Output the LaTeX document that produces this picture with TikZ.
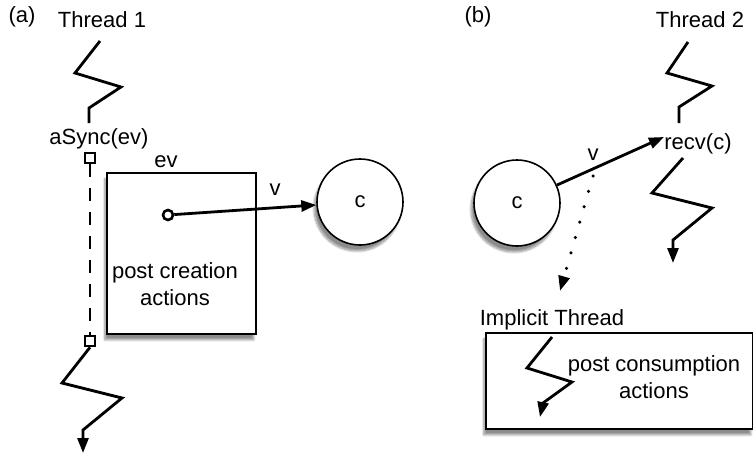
\documentclass[tikz,border=0pt]{standalone}
\usepackage{fontspec}
\setmainfont{Liberation Sans}
\usetikzlibrary{arrows.meta,shadows.blur}
\begin{document}
\begin{tikzpicture}[x=1pt,y=-1pt,
  every node/.style={font=\fontsize{22}{27}\selectfont},
  lbl/.style={inner sep=0pt},
  tip/.style={-{Triangle[length=15pt,width=11pt]}},
  thr/.style={line width=2.8pt,line join=miter,tip},
  thrplain/.style={line width=2.8pt,line join=miter},
  arr/.style={line width=2.8pt,tip},
  boxshape/.style={draw,line width=1.6pt,fill=white,blur shadow={shadow xshift=-2pt,shadow yshift=-6pt,shadow blur steps=10,shadow opacity=45}},
  chan/.style={circle,draw,line width=1.6pt,fill=white,minimum size=86pt,inner sep=0pt,blur shadow={shadow xshift=-3pt,shadow yshift=-6pt,shadow blur steps=10,shadow opacity=45}},
  sq/.style={draw,line width=2.6pt,fill=white,minimum size=10pt,inner sep=0pt}
]
\useasboundingbox (0,0) rectangle (753,455);

% ---------- (a) ----------
\node[lbl] (la) at (22,17) {(a)};
\node[lbl] (t1) at (102,20) {Thread 1};
\coordinate (z1a) at (100,41);
\coordinate (z1b) at (75,73);
\coordinate (z1c) at (121,87);
\coordinate (z1d) at (89,108);
\coordinate (z1e) at (89,123);
\draw[thrplain] (z1a) -- (z1b) -- (z1c) -- (z1d) -- (z1e);
\node[lbl] (async) at (99,139) {aSync(ev)};

\node[boxshape,minimum width=149pt,minimum height=161pt,anchor=north west] (ev) at (106,172) {};
\node[lbl] (evl) at (166,162) {ev};
\node[lbl,align=center] (pca) at (175,284) {post creation\\actions};

\node[sq] (sq1) at (90,158) {};
\node[sq] (sq2) at (90,341) {};
\draw[line width=2.8pt,dash pattern=on 13pt off 11pt] (sq1.south) -- (sq2.north);

\coordinate (z2b) at (62,383);
\coordinate (z2c) at (122,398);
\coordinate (z2d) at (83,430);
\coordinate (z2e) at (83,453);
\draw[thr] (sq2.south) -- (z2b) -- (z2c) -- (z2d) -- (z2e);

\node[chan] (c1) at (360,202) {c};
\node[circle,draw,line width=2.6pt,fill=white,minimum size=10pt,inner sep=0pt] (dot) at (168,215) {};
\draw[arr] (dot) -- (c1);
\node[lbl] (v1) at (275,190) {v};

% ---------- (b) ----------
\node[lbl] (lb) at (478,17) {(b)};
\node[lbl] (t2) at (700,20) {Thread 2};
\coordinate (z3a) at (688,42);
\coordinate (z3b) at (667,73);
\coordinate (z3c) at (712,86);
\coordinate (z3d) at (679,107);
\coordinate (z3e) at (679,123);
\draw[thrplain] (z3a) -- (z3b) -- (z3c) -- (z3d) -- (z3e);
\node[lbl] (recv) at (698,144) {recv(c)};
\coordinate (recvtip) at (664,137);

\coordinate (z4a) at (683,158);
\coordinate (z4b) at (652,193);
\coordinate (z4c) at (712,208);
\coordinate (z4d) at (673,240);
\coordinate (z4e) at (673,263);
\draw[thr] (z4a) -- (z4b) -- (z4c) -- (z4d) -- (z4e);

\node[chan] (c2) at (517,203) {c};
\draw[arr] (c2) -- (recvtip);
\node[lbl] (v2) at (593,155) {v};

\coordinate (dstart) at (593,176);
\coordinate (dend) at (560,291);
\draw[line width=3.5pt,line cap=round,dash pattern=on 0pt off 16pt,-{Triangle[length=15pt,width=11pt,line cap=butt]}] (dstart) -- (dend);

\node[lbl] (impl) at (552,320) {Implicit Thread};
\node[boxshape,minimum width=267pt,minimum height=96pt,anchor=north west] (pc) at (485,332) {};
\coordinate (z5a) at (552,337);
\coordinate (z5b) at (527,368);
\coordinate (z5c) at (572,382);
\coordinate (z5d) at (543,403);
\coordinate (z5e) at (540,417);
\draw[thr] (z5a) -- (z5b) -- (z5c) -- (z5d) -- (z5e);
\node[lbl,align=center] (pcons) at (654,377) {post consumption\\actions};
\end{tikzpicture}
\end{document}
